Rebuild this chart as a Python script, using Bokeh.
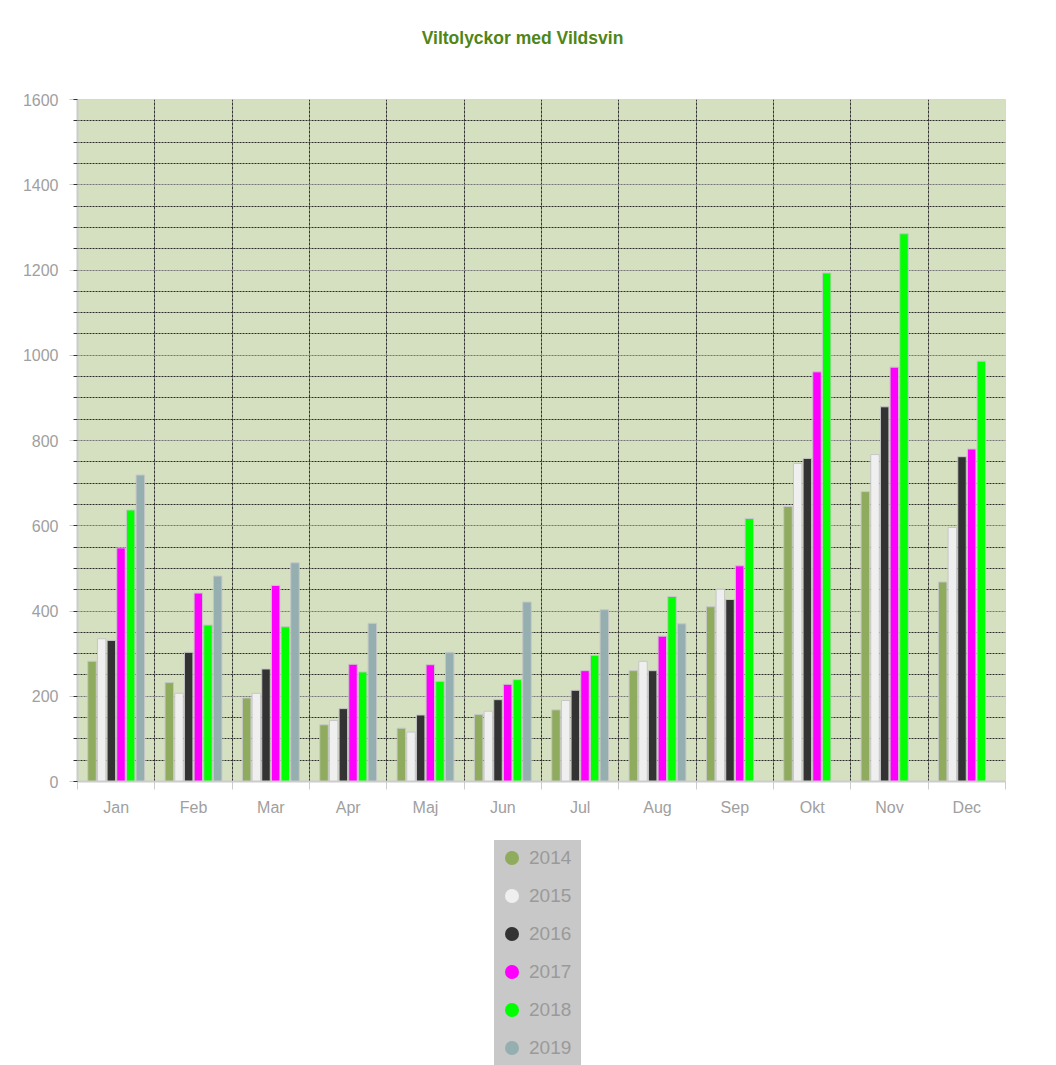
import numpy as np
from bokeh.plotting import figure
from bokeh.layouts import column
from bokeh.models import (ColumnDataSource, FixedTicker, SingleIntervalTicker, Range1d,
                          Legend, LegendItem, Label)
from bokeh.transform import dodge
from bokeh.embed import file_html
from bokeh.resources import INLINE

months = ["Jan", "Feb", "Mar", "Apr", "Maj", "Jun", "Jul", "Aug", "Sep", "Okt", "Nov", "Dec"]
years = ["2014", "2015", "2016", "2017", "2018", "2019"]
v2014 = [282, 232, 196, 133, 125, 157, 168, 260, 410, 645, 680, 468]
v2015 = [335, 207, 207, 143, 116, 165, 190, 282, 451, 746, 767, 596]
v2016 = [331, 303, 264, 171, 156, 192, 214, 260, 427, 758, 879, 762]
v2017 = [548, 442, 460, 275, 274, 228, 260, 341, 506, 961, 972, 780]
v2018 = [637, 367, 363, 257, 235, 239, 296, 434, 617, 1193, 1285, 986]
v2019 = [719, 482, 513, 371, 303, 421, 403, 370]
series = [v2014, v2015, v2016, v2017, v2018, v2019]
colors = ["#8fab5e", "#efefef", "#333333", "#ff00ff", "#00ff00", "#95aeb0"]
title_text = "Viltolyckor med Vildsvin"
y_ticks_interval = 200

W = 1048

# ---- title strip (frame is aligned with the main chart's frame) ----
p0 = figure(width=W, height=60, output_backend="svg", toolbar_location=None,
            x_axis_type=None, y_axis_type=None, min_border=0,
            x_range=Range1d(0, 1), y_range=Range1d(0, 1))
p0.outline_line_color = None
p0.grid.visible = False
p0.add_layout(Label(x=445, y=23, x_units="screen", y_units="screen", text=title_text,
                    text_font="Liberation Sans", text_font_style="bold",
                    text_font_size="17.5px", text_color="#4f8617",
                    text_align="center", text_baseline="alphabetic"))

# ---- main chart ----
p = figure(width=W, height=770, output_backend="svg", toolbar_location=None,
           x_range=Range1d(0, len(months)), y_range=Range1d(0, 1600),
           min_border_left=77, min_border_right=43, min_border_top=39, min_border_bottom=49)
p.background_fill_color = "#d5e0c0"
p.border_fill_color = "white"
p.outline_line_color = "#d6d6d6"

# x axis: ticks at month boundaries, labels at centres
centers = [i + 0.5 for i in range(len(months))]
xa = p.xaxis[0]
xa.ticker = FixedTicker(ticks=centers, minor_ticks=list(range(len(months) + 1)))
xa.major_label_overrides = {c: m for c, m in zip(centers, months)}
xa.major_tick_line_color = None
xa.major_tick_out = 0
xa.major_tick_in = 0
xa.minor_tick_line_color = "#cccccc"
xa.minor_tick_out = 8
xa.minor_tick_in = 0
xa.axis_line_color = "#cccccc"
xa.axis_line_width = 2
xa.major_label_text_font = "Liberation Sans"
xa.major_label_text_font_size = "16px"
xa.major_label_text_color = "#a0a0a0"
xa.major_label_standoff = 9

# y axis
ya = p.yaxis[0]
ya.ticker = SingleIntervalTicker(interval=y_ticks_interval, num_minor_ticks=4)
ya.axis_line_color = "#cccccc"
ya.axis_line_width = 2
ya.major_tick_line_color = "#cccccc"
ya.major_tick_out = 8
ya.major_tick_in = 0
ya.minor_tick_line_color = "#333333"
ya.minor_tick_out = 4
ya.minor_tick_in = 0
ya.major_label_text_font = "Liberation Sans"
ya.major_label_text_font_size = "16px"
ya.major_label_text_color = "#a0a0a0"
ya.major_label_standoff = 11

# grids
p.xgrid.ticker = FixedTicker(ticks=list(range(1, len(months))))
p.xgrid.grid_line_color = "#333333"
p.xgrid.grid_line_dash = "3 1"
p.xgrid.grid_line_width = 1
p.ygrid.grid_line_color = "#c4c4c4"
p.ygrid.grid_line_dash = "1 1"
p.ygrid.minor_grid_line_color = "#2a2a2a"
p.ygrid.minor_grid_line_dash = "2 1"
p.ygrid.minor_grid_line_width = 1

step = 0.125
n = len(years)
for k, (yr, vals, col) in enumerate(zip(years, series, colors)):
    src = ColumnDataSource(dict(x=centers[:len(vals)], top=vals, month=months[:len(vals)]))
    off = (k - (n - 1) / 2) * step
    p.vbar(x=dodge("x", off), top="top", width=0.11, source=src,
           fill_color=col, line_color="#c6c6c6", line_width=1)

# ---- legend strip ----
p2 = figure(width=W, height=235, output_backend="svg", toolbar_location=None,
            x_axis_type=None, y_axis_type=None, min_border=0,
            x_range=Range1d(0, 1), y_range=Range1d(0, 1))
p2.outline_line_color = None
p2.grid.visible = False
items = []
for yr, col in zip(years, colors):
    r = p2.scatter(x=np.array([np.nan]), y=np.array([np.nan]), marker="circle", size=14,
                   fill_color=col, line_color=None)
    items.append(LegendItem(label=yr, renderers=[r]))

legend = Legend(items=items, location=(417, 0))
legend.padding = 3
legend.margin = 0
legend.spacing = 3
legend.glyph_width = 35
legend.glyph_height = 35
legend.label_standoff = 0
legend.label_height = 35
legend.label_width = 52
legend.label_text_font = "Liberation Sans"
legend.label_text_font_size = "19px"
legend.label_text_color = "#9a9a9a"
legend.background_fill_color = "#c8c8c8"
legend.background_fill_alpha = 1.0
legend.border_line_color = None
p2.add_layout(legend, "center")

layout = column(p0, p, p2, spacing=0)
open("out.html", "w").write(file_html(layout, INLINE))
